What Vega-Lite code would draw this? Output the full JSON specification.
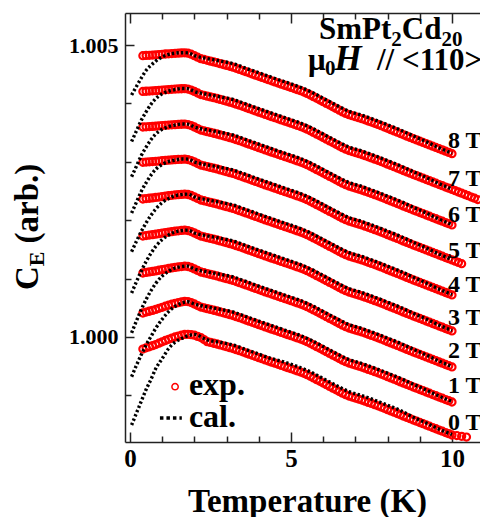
{
"$schema": "https://vega.github.io/schema/vega-lite/v6.json",
"width": 355, "height": 429,
"autosize": {"type": "none"},
"padding": {"left": 125, "top": 13, "right": 0, "bottom": 75},
"background": "white",
"config": {
  "view": {"stroke": null},
  "font": "Liberation Serif",
  "axis": {"grid": false, "domainColor": "#222", "tickColor": "#222", "domainWidth": 1.5, "tickWidth": 1.5,
           "labelFont": "Liberation Serif", "labelFontWeight": "bold", "labelColor": "black",
           "labelFlush": false, "labelOverlap": false, "labelBound": false}
},
"datasets": {
"exp": [
{"T":0.4,"h8":1.004817,"h7":1.004204,"h6":1.003596,"h5":1.002991,"h4":1.002363,"h3":1.001729,"h2":1.001096,"h1":1.000411,"h0":0.999794},
{"T":0.5,"h8":1.004821,"h7":1.004208,"h6":1.003600,"h5":1.002996,"h4":1.002370,"h3":1.001737,"h2":1.001106,"h1":1.000427,"h0":0.999815},
{"T":0.6,"h8":1.004824,"h7":1.004211,"h6":1.003603,"h5":1.003000,"h4":1.002376,"h3":1.001745,"h2":1.001114,"h1":1.000441,"h0":0.999833},
{"T":0.7,"h8":1.004828,"h7":1.004215,"h6":1.003607,"h5":1.003004,"h4":1.002382,"h3":1.001752,"h2":1.001122,"h1":1.000456,"h0":0.999851},
{"T":0.8,"h8":1.004832,"h7":1.004219,"h6":1.003611,"h5":1.003008,"h4":1.002389,"h3":1.001760,"h2":1.001132,"h1":1.000472,"h0":0.999871},
{"T":0.9,"h8":1.004837,"h7":1.004224,"h6":1.003616,"h5":1.003013,"h4":1.002397,"h3":1.001769,"h2":1.001143,"h1":1.000491,"h0":0.999894},
{"T":1.0,"h8":1.004841,"h7":1.004228,"h6":1.003620,"h5":1.003019,"h4":1.002404,"h3":1.001779,"h2":1.001154,"h1":1.000509,"h0":0.999917},
{"T":1.1,"h8":1.004846,"h7":1.004233,"h6":1.003625,"h5":1.003023,"h4":1.002412,"h3":1.001788,"h2":1.001164,"h1":1.000528,"h0":0.999940},
{"T":1.2,"h8":1.004850,"h7":1.004237,"h6":1.003629,"h5":1.003028,"h4":1.002419,"h3":1.001796,"h2":1.001174,"h1":1.000544,"h0":0.999961},
{"T":1.3,"h8":1.004854,"h7":1.004241,"h6":1.003633,"h5":1.003033,"h4":1.002426,"h3":1.001804,"h2":1.001184,"h1":1.000561,"h0":0.999982},
{"T":1.4,"h8":1.004858,"h7":1.004245,"h6":1.003637,"h5":1.003037,"h4":1.002432,"h3":1.001811,"h2":1.001192,"h1":1.000575,"h0":1.000000},
{"T":1.5,"h8":1.004861,"h7":1.004248,"h6":1.003640,"h5":1.003040,"h4":1.002437,"h3":1.001818,"h2":1.001199,"h1":1.000587,"h0":1.000015},
{"T":1.6,"h8":1.004864,"h7":1.004251,"h6":1.003643,"h5":1.003043,"h4":1.002442,"h3":1.001824,"h2":1.001206,"h1":1.000600,"h0":1.000030},
{"T":1.7,"h8":1.004866,"h7":1.004253,"h6":1.003645,"h5":1.003046,"h4":1.002446,"h3":1.001829,"h2":1.001212,"h1":1.000610,"h0":1.000043},
{"T":1.8,"h8":1.004859,"h7":1.004246,"h6":1.003638,"h5":1.003039,"h4":1.002440,"h3":1.001823,"h2":1.001207,"h1":1.000607,"h0":1.000046},
{"T":1.9,"h8":1.004842,"h7":1.004229,"h6":1.003621,"h5":1.003022,"h4":1.002423,"h3":1.001806,"h2":1.001190,"h1":1.000590,"h0":1.000039},
{"T":2.0,"h8":1.004817,"h7":1.004204,"h6":1.003596,"h5":1.002997,"h4":1.002398,"h3":1.001781,"h2":1.001165,"h1":1.000565,"h0":1.000031},
{"T":2.1,"h8":1.004791,"h7":1.004178,"h6":1.003570,"h5":1.002971,"h4":1.002372,"h3":1.001755,"h2":1.001139,"h1":1.000539,"h0":1.000011},
{"T":2.2,"h8":1.004765,"h7":1.004152,"h6":1.003544,"h5":1.002945,"h4":1.002346,"h3":1.001729,"h2":1.001113,"h1":1.000513,"h0":0.999991},
{"T":2.3,"h8":1.004752,"h7":1.004139,"h6":1.003531,"h5":1.002932,"h4":1.002333,"h3":1.001716,"h2":1.001100,"h1":1.000500,"h0":0.999956},
{"T":2.4,"h8":1.004738,"h7":1.004125,"h6":1.003517,"h5":1.002918,"h4":1.002319,"h3":1.001702,"h2":1.001086,"h1":1.000486,"h0":0.999921},
{"T":2.5,"h8":1.004724,"h7":1.004111,"h6":1.003503,"h5":1.002904,"h4":1.002305,"h3":1.001688,"h2":1.001072,"h1":1.000472,"h0":0.999907},
{"T":2.6,"h8":1.004710,"h7":1.004097,"h6":1.003489,"h5":1.002890,"h4":1.002291,"h3":1.001674,"h2":1.001058,"h1":1.000458,"h0":0.999893},
{"T":2.7,"h8":1.004697,"h7":1.004084,"h6":1.003476,"h5":1.002877,"h4":1.002278,"h3":1.001661,"h2":1.001045,"h1":1.000445,"h0":0.999880},
{"T":2.8,"h8":1.004681,"h7":1.004068,"h6":1.003460,"h5":1.002861,"h4":1.002262,"h3":1.001645,"h2":1.001029,"h1":1.000429,"h0":0.999864},
{"T":2.9,"h8":1.004666,"h7":1.004053,"h6":1.003445,"h5":1.002846,"h4":1.002247,"h3":1.001630,"h2":1.001014,"h1":1.000414,"h0":0.999849},
{"T":3.0,"h8":1.004651,"h7":1.004038,"h6":1.003430,"h5":1.002831,"h4":1.002232,"h3":1.001615,"h2":1.000999,"h1":1.000399,"h0":0.999834},
{"T":3.1,"h8":1.004635,"h7":1.004022,"h6":1.003414,"h5":1.002815,"h4":1.002216,"h3":1.001599,"h2":1.000983,"h1":1.000383,"h0":0.999818},
{"T":3.2,"h8":1.004620,"h7":1.004007,"h6":1.003399,"h5":1.002800,"h4":1.002201,"h3":1.001584,"h2":1.000968,"h1":1.000368,"h0":0.999803},
{"T":3.3,"h8":1.004601,"h7":1.003988,"h6":1.003380,"h5":1.002781,"h4":1.002182,"h3":1.001565,"h2":1.000949,"h1":1.000349,"h0":0.999784},
{"T":3.4,"h8":1.004582,"h7":1.003969,"h6":1.003361,"h5":1.002762,"h4":1.002163,"h3":1.001546,"h2":1.000930,"h1":1.000330,"h0":0.999765},
{"T":3.5,"h8":1.004563,"h7":1.003950,"h6":1.003342,"h5":1.002743,"h4":1.002144,"h3":1.001527,"h2":1.000911,"h1":1.000311,"h0":0.999746},
{"T":3.6,"h8":1.004543,"h7":1.003930,"h6":1.003322,"h5":1.002723,"h4":1.002124,"h3":1.001507,"h2":1.000891,"h1":1.000291,"h0":0.999726},
{"T":3.7,"h8":1.004524,"h7":1.003911,"h6":1.003303,"h5":1.002704,"h4":1.002105,"h3":1.001488,"h2":1.000872,"h1":1.000272,"h0":0.999707},
{"T":3.8,"h8":1.004503,"h7":1.003890,"h6":1.003282,"h5":1.002683,"h4":1.002084,"h3":1.001467,"h2":1.000851,"h1":1.000251,"h0":0.999686},
{"T":3.9,"h8":1.004484,"h7":1.003871,"h6":1.003263,"h5":1.002664,"h4":1.002065,"h3":1.001448,"h2":1.000832,"h1":1.000232,"h0":0.999667},
{"T":4.0,"h8":1.004464,"h7":1.003851,"h6":1.003243,"h5":1.002644,"h4":1.002045,"h3":1.001428,"h2":1.000812,"h1":1.000212,"h0":0.999647},
{"T":4.1,"h8":1.004445,"h7":1.003832,"h6":1.003224,"h5":1.002625,"h4":1.002026,"h3":1.001409,"h2":1.000793,"h1":1.000193,"h0":0.999628},
{"T":4.2,"h8":1.004425,"h7":1.003812,"h6":1.003204,"h5":1.002605,"h4":1.002006,"h3":1.001389,"h2":1.000773,"h1":1.000173,"h0":0.999608},
{"T":4.3,"h8":1.004406,"h7":1.003793,"h6":1.003185,"h5":1.002586,"h4":1.001987,"h3":1.001370,"h2":1.000754,"h1":1.000154,"h0":0.999589},
{"T":4.4,"h8":1.004387,"h7":1.003774,"h6":1.003166,"h5":1.002567,"h4":1.001968,"h3":1.001351,"h2":1.000735,"h1":1.000135,"h0":0.999570},
{"T":4.5,"h8":1.004368,"h7":1.003755,"h6":1.003147,"h5":1.002548,"h4":1.001949,"h3":1.001332,"h2":1.000716,"h1":1.000116,"h0":0.999551},
{"T":4.6,"h8":1.004349,"h7":1.003736,"h6":1.003128,"h5":1.002529,"h4":1.001930,"h3":1.001313,"h2":1.000697,"h1":1.000097,"h0":0.999532},
{"T":4.7,"h8":1.004330,"h7":1.003717,"h6":1.003109,"h5":1.002510,"h4":1.001911,"h3":1.001294,"h2":1.000678,"h1":1.000078,"h0":0.999513},
{"T":4.8,"h8":1.004311,"h7":1.003698,"h6":1.003090,"h5":1.002491,"h4":1.001892,"h3":1.001275,"h2":1.000659,"h1":1.000059,"h0":0.999494},
{"T":4.9,"h8":1.004293,"h7":1.003680,"h6":1.003072,"h5":1.002473,"h4":1.001874,"h3":1.001257,"h2":1.000641,"h1":1.000041,"h0":0.999476},
{"T":5.0,"h8":1.004274,"h7":1.003661,"h6":1.003053,"h5":1.002454,"h4":1.001855,"h3":1.001238,"h2":1.000622,"h1":1.000022,"h0":0.999457},
{"T":5.1,"h8":1.004255,"h7":1.003642,"h6":1.003034,"h5":1.002435,"h4":1.001836,"h3":1.001219,"h2":1.000603,"h1":1.000003,"h0":0.999438},
{"T":5.2,"h8":1.004236,"h7":1.003623,"h6":1.003015,"h5":1.002416,"h4":1.001817,"h3":1.001200,"h2":1.000584,"h1":0.999984,"h0":0.999419},
{"T":5.3,"h8":1.004217,"h7":1.003604,"h6":1.002996,"h5":1.002397,"h4":1.001798,"h3":1.001181,"h2":1.000565,"h1":0.999965,"h0":0.999400},
{"T":5.4,"h8":1.004195,"h7":1.003582,"h6":1.002974,"h5":1.002375,"h4":1.001776,"h3":1.001159,"h2":1.000543,"h1":0.999943,"h0":0.999378},
{"T":5.5,"h8":1.004171,"h7":1.003558,"h6":1.002950,"h5":1.002351,"h4":1.001752,"h3":1.001135,"h2":1.000519,"h1":0.999919,"h0":0.999354},
{"T":5.6,"h8":1.004144,"h7":1.003531,"h6":1.002923,"h5":1.002324,"h4":1.001725,"h3":1.001108,"h2":1.000492,"h1":0.999892,"h0":0.999327},
{"T":5.7,"h8":1.004116,"h7":1.003503,"h6":1.002895,"h5":1.002296,"h4":1.001697,"h3":1.001080,"h2":1.000464,"h1":0.999864,"h0":0.999299},
{"T":5.8,"h8":1.004087,"h7":1.003474,"h6":1.002866,"h5":1.002267,"h4":1.001668,"h3":1.001051,"h2":1.000435,"h1":0.999835,"h0":0.999270},
{"T":5.9,"h8":1.004058,"h7":1.003445,"h6":1.002837,"h5":1.002238,"h4":1.001639,"h3":1.001022,"h2":1.000406,"h1":0.999806,"h0":0.999241},
{"T":6.0,"h8":1.004029,"h7":1.003416,"h6":1.002808,"h5":1.002209,"h4":1.001610,"h3":1.000993,"h2":1.000377,"h1":0.999777,"h0":0.999212},
{"T":6.1,"h8":1.004000,"h7":1.003387,"h6":1.002779,"h5":1.002180,"h4":1.001581,"h3":1.000964,"h2":1.000348,"h1":0.999748,"h0":0.999183},
{"T":6.2,"h8":1.003971,"h7":1.003358,"h6":1.002750,"h5":1.002151,"h4":1.001552,"h3":1.000935,"h2":1.000319,"h1":0.999719,"h0":0.999154},
{"T":6.3,"h8":1.003942,"h7":1.003329,"h6":1.002721,"h5":1.002122,"h4":1.001523,"h3":1.000906,"h2":1.000290,"h1":0.999690,"h0":0.999125},
{"T":6.4,"h8":1.003913,"h7":1.003300,"h6":1.002692,"h5":1.002093,"h4":1.001494,"h3":1.000877,"h2":1.000261,"h1":0.999661,"h0":0.999096},
{"T":6.5,"h8":1.003883,"h7":1.003270,"h6":1.002662,"h5":1.002063,"h4":1.001464,"h3":1.000847,"h2":1.000231,"h1":0.999631,"h0":0.999066},
{"T":6.6,"h8":1.003854,"h7":1.003241,"h6":1.002633,"h5":1.002034,"h4":1.001435,"h3":1.000818,"h2":1.000202,"h1":0.999602,"h0":0.999037},
{"T":6.7,"h8":1.003829,"h7":1.003216,"h6":1.002608,"h5":1.002009,"h4":1.001410,"h3":1.000793,"h2":1.000177,"h1":0.999577,"h0":0.999012},
{"T":6.8,"h8":1.003806,"h7":1.003193,"h6":1.002585,"h5":1.001986,"h4":1.001387,"h3":1.000770,"h2":1.000154,"h1":0.999554,"h0":0.998989},
{"T":6.9,"h8":1.003789,"h7":1.003176,"h6":1.002568,"h5":1.001969,"h4":1.001370,"h3":1.000753,"h2":1.000137,"h1":0.999537,"h0":0.998972},
{"T":7.0,"h8":1.003772,"h7":1.003159,"h6":1.002551,"h5":1.001952,"h4":1.001353,"h3":1.000736,"h2":1.000120,"h1":0.999520,"h0":0.998955},
{"T":7.1,"h8":1.003755,"h7":1.003142,"h6":1.002534,"h5":1.001935,"h4":1.001336,"h3":1.000719,"h2":1.000103,"h1":0.999503,"h0":0.998938},
{"T":7.2,"h8":1.003738,"h7":1.003125,"h6":1.002517,"h5":1.001918,"h4":1.001319,"h3":1.000702,"h2":1.000086,"h1":0.999486,"h0":0.998921},
{"T":7.3,"h8":1.003719,"h7":1.003106,"h6":1.002498,"h5":1.001899,"h4":1.001300,"h3":1.000683,"h2":1.000067,"h1":0.999467,"h0":0.998902},
{"T":7.4,"h8":1.003698,"h7":1.003085,"h6":1.002477,"h5":1.001878,"h4":1.001279,"h3":1.000662,"h2":1.000046,"h1":0.999446,"h0":0.998881},
{"T":7.5,"h8":1.003680,"h7":1.003067,"h6":1.002459,"h5":1.001860,"h4":1.001261,"h3":1.000644,"h2":1.000028,"h1":0.999428,"h0":0.998863},
{"T":7.6,"h8":1.003659,"h7":1.003046,"h6":1.002438,"h5":1.001839,"h4":1.001240,"h3":1.000623,"h2":1.000007,"h1":0.999407,"h0":0.998842},
{"T":7.7,"h8":1.003639,"h7":1.003026,"h6":1.002418,"h5":1.001819,"h4":1.001220,"h3":1.000603,"h2":0.999987,"h1":0.999387,"h0":0.998822},
{"T":7.8,"h8":1.003618,"h7":1.003005,"h6":1.002397,"h5":1.001798,"h4":1.001199,"h3":1.000582,"h2":0.999966,"h1":0.999366,"h0":0.998801},
{"T":7.9,"h8":1.003596,"h7":1.002983,"h6":1.002375,"h5":1.001776,"h4":1.001177,"h3":1.000560,"h2":0.999944,"h1":0.999344,"h0":0.998779},
{"T":8.0,"h8":1.003573,"h7":1.002960,"h6":1.002352,"h5":1.001753,"h4":1.001154,"h3":1.000537,"h2":0.999921,"h1":0.999321,"h0":0.998756},
{"T":8.1,"h8":1.003551,"h7":1.002938,"h6":1.002330,"h5":1.001731,"h4":1.001132,"h3":1.000515,"h2":0.999899,"h1":0.999299,"h0":0.998734},
{"T":8.2,"h8":1.003529,"h7":1.002916,"h6":1.002308,"h5":1.001709,"h4":1.001110,"h3":1.000493,"h2":0.999877,"h1":0.999277,"h0":0.998712},
{"T":8.3,"h8":1.003507,"h7":1.002894,"h6":1.002286,"h5":1.001687,"h4":1.001088,"h3":1.000471,"h2":0.999855,"h1":0.999255,"h0":0.998690},
{"T":8.4,"h8":1.003484,"h7":1.002871,"h6":1.002263,"h5":1.001664,"h4":1.001065,"h3":1.000448,"h2":0.999832,"h1":0.999232,"h0":0.998667},
{"T":8.5,"h8":1.003462,"h7":1.002849,"h6":1.002241,"h5":1.001642,"h4":1.001043,"h3":1.000426,"h2":0.999810,"h1":0.999210,"h0":0.998645},
{"T":8.6,"h8":1.003440,"h7":1.002827,"h6":1.002219,"h5":1.001620,"h4":1.001021,"h3":1.000404,"h2":0.999788,"h1":0.999188,"h0":0.998623},
{"T":8.7,"h8":1.003418,"h7":1.002805,"h6":1.002197,"h5":1.001598,"h4":1.000999,"h3":1.000382,"h2":0.999766,"h1":0.999166,"h0":0.998601},
{"T":8.8,"h8":1.003395,"h7":1.002782,"h6":1.002174,"h5":1.001575,"h4":1.000976,"h3":1.000359,"h2":0.999743,"h1":0.999143,"h0":0.998578},
{"T":8.9,"h8":1.003375,"h7":1.002762,"h6":1.002154,"h5":1.001555,"h4":1.000956,"h3":1.000339,"h2":0.999723,"h1":0.999123,"h0":0.998558},
{"T":9.0,"h8":1.003353,"h7":1.002740,"h6":1.002132,"h5":1.001533,"h4":1.000934,"h3":1.000317,"h2":0.999701,"h1":0.999101,"h0":0.998536},
{"T":9.1,"h8":1.003332,"h7":1.002719,"h6":1.002111,"h5":1.001512,"h4":1.000913,"h3":1.000296,"h2":0.999680,"h1":0.999080,"h0":0.998515},
{"T":9.2,"h8":1.003310,"h7":1.002697,"h6":1.002089,"h5":1.001490,"h4":1.000891,"h3":1.000274,"h2":0.999658,"h1":0.999058,"h0":0.998493},
{"T":9.3,"h8":1.003289,"h7":1.002676,"h6":1.002068,"h5":1.001469,"h4":1.000870,"h3":1.000253,"h2":0.999637,"h1":0.999037,"h0":0.998472},
{"T":9.4,"h8":1.003267,"h7":1.002654,"h6":1.002046,"h5":1.001447,"h4":1.000848,"h3":1.000231,"h2":0.999615,"h1":0.999015,"h0":0.998450},
{"T":9.5,"h8":1.003246,"h7":1.002633,"h6":1.002025,"h5":1.001426,"h4":1.000827,"h3":1.000210,"h2":0.999594,"h1":0.998994,"h0":0.998429},
{"T":9.6,"h8":1.003224,"h7":1.002611,"h6":1.002003,"h5":1.001404,"h4":1.000805,"h3":1.000188,"h2":0.999572,"h1":0.998972,"h0":0.998407},
{"T":9.7,"h8":1.003204,"h7":1.002591,"h6":1.001983,"h5":1.001384,"h4":1.000785,"h3":1.000168,"h2":0.999552,"h1":0.998952,"h0":0.998387},
{"T":9.8,"h8":1.003181,"h7":1.002568,"h6":1.001960,"h5":1.001361,"h4":1.000762,"h3":1.000145,"h2":0.999529,"h1":0.998929,"h0":0.998364},
{"T":9.9,"h8":1.003161,"h7":1.002548,"h6":1.001940,"h5":1.001341,"h4":1.000742,"h3":1.000125,"h2":0.999509,"h1":0.998909,"h0":0.998344},
{"T":10.0,"h8":1.003139,"h7":1.002526,"h6":1.001918,"h5":1.001319,"h4":1.000720,"h3":1.000103,"h2":0.999487,"h1":0.998887,"h0":0.998322},
{"T":10.1,"h7":1.002505,"h5":1.001298},
{"T":10.15,"h0":0.998313},
{"T":10.2,"h7":1.002483,"h5":1.001276},
{"T":10.3,"h7":1.002462,"h5":1.001255,"h0":0.998299},
{"T":10.4,"h7":1.002440},
{"T":10.45,"h0":0.998287},
{"T":10.5,"h7":1.002419},
{"T":10.6,"h7":1.002397},
{"T":10.7,"h7":1.002377},
{"T":10.8,"h7":1.002354}
],
"cal": [
{"T":0.05,"h8":1.004144,"h7":1.003347,"h6":1.002745,"h5":1.002123,"h4":1.001461,"h3":1.000753,"h2":1.000069,"h1":0.999320,"h0":0.998493},
{"T":0.2,"h8":1.004289,"h7":1.003529,"h6":1.002925,"h5":1.002308,"h4":1.001639,"h3":1.000947,"h2":1.000275,"h1":0.999514,"h0":0.998696},
{"T":0.35,"h8":1.004434,"h7":1.003710,"h6":1.003106,"h5":1.002493,"h4":1.001807,"h3":1.001131,"h2":1.000470,"h1":0.999696,"h0":0.998898},
{"T":0.5,"h8":1.004564,"h7":1.003855,"h6":1.003250,"h5":1.002641,"h4":1.001955,"h3":1.001292,"h2":1.000642,"h1":0.999864,"h0":0.999101},
{"T":0.65,"h8":1.004651,"h7":1.003983,"h6":1.003376,"h5":1.002770,"h4":1.002083,"h3":1.001433,"h2":1.000792,"h1":1.000007,"h0":0.999272},
{"T":0.8,"h8":1.004723,"h7":1.004082,"h6":1.003476,"h5":1.002872,"h4":1.002192,"h3":1.001551,"h2":1.000918,"h1":1.000149,"h0":0.999459},
{"T":1.0,"h8":1.004796,"h7":1.004164,"h6":1.003557,"h5":1.002955,"h4":1.002301,"h3":1.001670,"h2":1.001044,"h1":1.000305,"h0":0.999630},
{"T":1.2,"h8":1.004839,"h7":1.004210,"h6":1.003602,"h5":1.003002,"h4":1.002370,"h3":1.001746,"h2":1.001124,"h1":1.000435,"h0":0.999802},
{"T":1.4,"h8":1.004861,"h7":1.004237,"h6":1.003629,"h5":1.003029,"h4":1.002419,"h3":1.001800,"h2":1.001182,"h1":1.000525,"h0":0.999911},
{"T":1.6,"h8":1.004868,"h7":1.004255,"h6":1.003647,"h5":1.003048,"h4":1.002439,"h3":1.001821,"h2":1.001205,"h1":1.000577,"h0":0.999973},
{"T":1.8,"h8":1.004866,"h7":1.004253,"h6":1.003645,"h5":1.003046,"h4":1.002447,"h3":1.001830,"h2":1.001214,"h1":1.000603,"h0":1.000020},
{"T":2.0,"h8":1.004817,"h7":1.004204,"h6":1.003596,"h5":1.002997,"h4":1.002398,"h3":1.001781,"h2":1.001165,"h1":1.000565,"h0":1.000045},
{"T":2.4,"h8":1.004768,"h7":1.004155,"h6":1.003547,"h5":1.002948,"h4":1.002349,"h3":1.001732,"h2":1.001116,"h1":1.000516,"h0":0.999951},
{"T":2.8,"h8":1.004726,"h7":1.004113,"h6":1.003505,"h5":1.002906,"h4":1.002307,"h3":1.001690,"h2":1.001074,"h1":1.000474,"h0":0.999909},
{"T":3.2,"h8":1.004680,"h7":1.004067,"h6":1.003459,"h5":1.002860,"h4":1.002261,"h3":1.001644,"h2":1.001028,"h1":1.000428,"h0":0.999863},
{"T":3.6,"h8":1.004603,"h7":1.003990,"h6":1.003382,"h5":1.002783,"h4":1.002184,"h3":1.001567,"h2":1.000951,"h1":1.000351,"h0":0.999786},
{"T":4.0,"h8":1.004524,"h7":1.003911,"h6":1.003303,"h5":1.002704,"h4":1.002105,"h3":1.001488,"h2":1.000872,"h1":1.000272,"h0":0.999707},
{"T":4.4,"h8":1.004447,"h7":1.003834,"h6":1.003226,"h5":1.002627,"h4":1.002028,"h3":1.001411,"h2":1.000795,"h1":1.000195,"h0":0.999630},
{"T":4.8,"h8":1.004371,"h7":1.003758,"h6":1.003150,"h5":1.002551,"h4":1.001952,"h3":1.001335,"h2":1.000719,"h1":1.000119,"h0":0.999570},
{"T":5.2,"h8":1.004296,"h7":1.003683,"h6":1.003075,"h5":1.002476,"h4":1.001877,"h3":1.001260,"h2":1.000644,"h1":1.000044,"h0":0.999495},
{"T":5.6,"h8":1.004204,"h7":1.003591,"h6":1.002983,"h5":1.002384,"h4":1.001785,"h3":1.001168,"h2":1.000552,"h1":0.999952,"h0":0.999403},
{"T":6.0,"h8":1.004089,"h7":1.003476,"h6":1.002868,"h5":1.002269,"h4":1.001670,"h3":1.001053,"h2":1.000437,"h1":0.999837,"h0":0.999288},
{"T":6.4,"h8":1.003973,"h7":1.003360,"h6":1.002752,"h5":1.002153,"h4":1.001554,"h3":1.000937,"h2":1.000321,"h1":0.999721,"h0":0.999172},
{"T":6.8,"h8":1.003866,"h7":1.003253,"h6":1.002645,"h5":1.002046,"h4":1.001447,"h3":1.000830,"h2":1.000214,"h1":0.999614,"h0":0.999065},
{"T":7.2,"h8":1.003798,"h7":1.003185,"h6":1.002577,"h5":1.001978,"h4":1.001379,"h3":1.000762,"h2":1.000146,"h1":0.999546,"h0":0.998997},
{"T":7.6,"h8":1.003719,"h7":1.003106,"h6":1.002498,"h5":1.001899,"h4":1.001300,"h3":1.000683,"h2":1.000067,"h1":0.999467,"h0":0.998918},
{"T":8.0,"h8":1.003633,"h7":1.003020,"h6":1.002412,"h5":1.001813,"h4":1.001214,"h3":1.000597,"h2":0.999981,"h1":0.999381,"h0":0.998832},
{"T":8.4,"h8":1.003544,"h7":1.002931,"h6":1.002323,"h5":1.001724,"h4":1.001125,"h3":1.000508,"h2":0.999892,"h1":0.999292,"h0":0.998743},
{"T":8.8,"h8":1.003443,"h7":1.002830,"h6":1.002222,"h5":1.001623,"h4":1.001024,"h3":1.000407,"h2":0.999791,"h1":0.999191,"h0":0.998626},
{"T":9.2,"h8":1.003345,"h7":1.002732,"h6":1.002124,"h5":1.001525,"h4":1.000926,"h3":1.000309,"h2":0.999693,"h1":0.999093,"h0":0.998528},
{"T":9.6,"h8":1.003239,"h7":1.002626,"h6":1.002018,"h5":1.001419,"h4":1.000820,"h3":1.000203,"h2":0.999587,"h1":0.998987,"h0":0.998422},
{"T":10.0,"h8":1.003147,"h7":1.002534,"h6":1.001926,"h5":1.001327,"h4":1.000728,"h3":1.000111,"h2":0.999495,"h1":0.998895,"h0":0.998330}
],
"lab": [
{"T":9.876,"CE":1.003236,"t":"8 T"},{"T":9.876,"CE":1.002586,"t":"7 T"},{"T":9.876,"CE":1.001969,"t":"6 T"},
{"T":9.876,"CE":1.001353,"t":"5 T"},{"T":9.876,"CE":1.000771,"t":"4 T"},{"T":9.876,"CE":1.000205,"t":"3 T"},
{"T":9.876,"CE":0.999640,"t":"2 T"},{"T":9.876,"CE":0.999041,"t":"1 T"},{"T":9.876,"CE":0.998408,"t":"0 T"}
],
"ttl": [
{"T":5.870,"CE":1.005103,"t":"SmPt"},{"T":8.441,"CE":1.005103,"t":"Cd"}
],
"ttl2": [
{"T":5.528,"CE":1.004572,"t":"μ"},{"T":7.671,"CE":1.004572,"t":"// <110>"}
],
"sub": [
{"T":8.115,"CE":1.004983,"t":"2"},{"T":9.671,"CE":1.004983,"t":"20"},{"T":6.056,"CE":1.004486,"t":"0"}
],
"hit": [{"T":6.351,"CE":1.004572,"t":"H"}],
"leg": [{"T":1.83,"CE":0.999007,"t":"exp."},{"T":1.83,"CE":0.998459,"t":"cal."}],
"legpt": [{"T":1.40,"CE":0.999149}],
"legln": [{"T":0.93,"CE":0.998613},{"T":1.61,"CE":0.998613}],
"yt": [{"T":-2.857,"CE":1.000805,"t":"C"},{"T":-2.857,"CE":1.001601,"t":"(arb.)"}],
"ys": [{"T":-2.671,"CE":1.001212,"t":"E"}]
},
"layer": [
{
  "data": {"name": "exp"},
  "transform": [{"fold": ["h0","h1","h2","h3","h4","h5","h6","h7","h8"], "as": ["H","CE"]}, {"filter": "isValid(datum.CE)"}],
  "mark": {"type": "point", "shape": "circle", "filled": false, "color": "#ff0000", "size": 50, "strokeWidth": 2.2, "opacity": 1},
  "encoding": {
    "x": {"field": "T", "type": "quantitative", "scale": {"domain": [-0.155, 10.87], "nice": false, "zero": false},
          "axis": {"orient": "bottom", "values": [0,5,10], "ticks": false, "labelFontSize": 25, "labelPadding": 4, "domain": true,
                   "title": "Temperature (K)", "titleFont": "Liberation Serif", "titleFontSize": 33, "titleFontWeight": "bold", "titleColor": "black",
                   "titleX": 182, "titleY": 69, "titleBaseline": "alphabetic", "titleAlign": "center"}},
    "y": {"field": "CE", "type": "quantitative", "scale": {"domain": [0.998202, 1.005548], "nice": false, "zero": false},
          "axis": {"orient": "left", "values": [1.0, 1.005], "format": ".3f", "ticks": false, "labelFontSize": 22, "labelPadding": 7, "domain": true, "title": null}}
  }
},
{
  "data": {"name": "cal"},
  "transform": [{"fold": ["h0","h1","h2","h3","h4","h5","h6","h7","h8"], "as": ["H","CE"]}, {"filter": "isValid(datum.CE)"}],
  "mark": {"type": "line", "color": "black", "strokeWidth": 3.4, "strokeDash": [2.4, 2.2], "strokeCap": "butt", "interpolate": "monotone"},
  "encoding": {
    "x": {"field": "T", "type": "quantitative", "scale": {"domain": [-0.155, 10.87], "nice": false, "zero": false},
          "axis": {"orient": "bottom", "values": [0,5,10], "tickSize": -10, "labels": false, "domain": false, "title": null}},
    "y": {"field": "CE", "type": "quantitative", "scale": {"domain": [0.998202, 1.005548], "nice": false, "zero": false},
          "axis": {"orient": "left", "values": [1.0, 1.005], "tickSize": -9, "labels": false, "domain": false, "title": null}},
    "detail": {"field": "H"}
  }
},
{
  "data": {"name": "lab"},
  "mark": {"type": "text", "align": "left", "baseline": "alphabetic", "font": "Liberation Serif", "fontWeight": "bold", "fontSize": 24, "color": "black"},
  "encoding": {
    "x": {"field": "T", "type": "quantitative", "scale": {"domain": [-0.155, 10.87], "nice": false, "zero": false},
          "axis": {"orient": "bottom", "values": [1,2,3,4,6,7,8,9], "tickSize": -6, "labels": false, "domain": false, "title": null}},
    "y": {"field": "CE", "type": "quantitative", "scale": {"domain": [0.998202, 1.005548], "nice": false, "zero": false},
          "axis": {"orient": "left", "values": [0.999, 1.001, 1.002, 1.003, 1.004], "tickSize": -6, "labels": false, "domain": false, "title": null}},
    "text": {"field": "t"}
  }
},
{
  "data": {"name": "ttl"},
  "mark": {"type": "text", "align": "left", "baseline": "alphabetic", "font": "Liberation Serif", "fontWeight": "bold", "fontSize": 31, "color": "black"},
  "encoding": {
    "x": {"field": "T", "type": "quantitative", "scale": {"domain": [-0.155, 10.87], "nice": false, "zero": false},
          "axis": {"orient": "top", "values": [0,5,10], "tickSize": -10, "labels": false, "domain": true, "title": null}},
    "y": {"field": "CE", "type": "quantitative", "scale": {"domain": [0.998202, 1.005548], "nice": false, "zero": false}, "axis": null},
    "text": {"field": "t"}
  }
},
{
  "data": {"name": "sub"},
  "mark": {"type": "text", "align": "left", "baseline": "alphabetic", "font": "Liberation Serif", "fontWeight": "bold", "fontSize": 21, "color": "black"},
  "encoding": {
    "x": {"field": "T", "type": "quantitative", "scale": {"domain": [-0.155, 10.87], "nice": false, "zero": false},
          "axis": {"orient": "top", "values": [1,2,3,4,6,7,8,9], "tickSize": -6, "labels": false, "domain": false, "title": null}},
    "y": {"field": "CE", "type": "quantitative", "scale": {"domain": [0.998202, 1.005548], "nice": false, "zero": false}, "axis": null},
    "text": {"field": "t"}
  }
},
{
  "data": {"name": "ttl2"},
  "mark": {"type": "text", "align": "left", "baseline": "alphabetic", "font": "Liberation Serif", "fontWeight": "bold", "fontSize": 31, "color": "black"},
  "encoding": {
    "x": {"field": "T", "type": "quantitative", "scale": {"domain": [-0.155, 10.87], "nice": false, "zero": false}, "axis": null},
    "y": {"field": "CE", "type": "quantitative", "scale": {"domain": [0.998202, 1.005548], "nice": false, "zero": false}, "axis": null},
    "text": {"field": "t"}
  }
},
{
  "data": {"name": "hit"},
  "mark": {"type": "text", "align": "left", "baseline": "alphabetic", "font": "Liberation Serif", "fontWeight": "bold", "fontStyle": "italic", "fontSize": 35, "color": "black"},
  "encoding": {
    "x": {"field": "T", "type": "quantitative", "scale": {"domain": [-0.155, 10.87], "nice": false, "zero": false}, "axis": null},
    "y": {"field": "CE", "type": "quantitative", "scale": {"domain": [0.998202, 1.005548], "nice": false, "zero": false}, "axis": null},
    "text": {"field": "t"}
  }
},
{
  "data": {"name": "leg"},
  "mark": {"type": "text", "align": "left", "baseline": "alphabetic", "font": "Liberation Serif", "fontWeight": "bold", "fontSize": 32, "color": "black"},
  "encoding": {
    "x": {"field": "T", "type": "quantitative", "scale": {"domain": [-0.155, 10.87], "nice": false, "zero": false}, "axis": null},
    "y": {"field": "CE", "type": "quantitative", "scale": {"domain": [0.998202, 1.005548], "nice": false, "zero": false}, "axis": null},
    "text": {"field": "t"}
  }
},
{
  "data": {"name": "legpt"},
  "mark": {"type": "point", "shape": "circle", "filled": false, "color": "#ff0000", "size": 40, "strokeWidth": 1.5, "opacity": 1},
  "encoding": {
    "x": {"field": "T", "type": "quantitative", "scale": {"domain": [-0.155, 10.87], "nice": false, "zero": false}, "axis": null},
    "y": {"field": "CE", "type": "quantitative", "scale": {"domain": [0.998202, 1.005548], "nice": false, "zero": false}, "axis": null}
  }
},
{
  "data": {"name": "legln"},
  "mark": {"type": "line", "color": "black", "strokeWidth": 3.5, "strokeDash": [3.5, 3], "strokeCap": "butt"},
  "encoding": {
    "x": {"field": "T", "type": "quantitative", "scale": {"domain": [-0.155, 10.87], "nice": false, "zero": false}, "axis": null},
    "y": {"field": "CE", "type": "quantitative", "scale": {"domain": [0.998202, 1.005548], "nice": false, "zero": false}, "axis": null}
  }
},
{
  "data": {"name": "yt"},
  "mark": {"type": "text", "align": "left", "baseline": "alphabetic", "angle": 270, "font": "Liberation Serif", "fontWeight": "bold", "fontSize": 33, "color": "black"},
  "encoding": {
    "x": {"field": "T", "type": "quantitative", "scale": {"domain": [-0.155, 10.87], "nice": false, "zero": false}, "axis": null},
    "y": {"field": "CE", "type": "quantitative", "scale": {"domain": [0.998202, 1.005548], "nice": false, "zero": false}, "axis": null},
    "text": {"field": "t"}
  }
},
{
  "data": {"name": "ys"},
  "mark": {"type": "text", "align": "left", "baseline": "alphabetic", "angle": 270, "font": "Liberation Serif", "fontWeight": "bold", "fontSize": 22, "color": "black"},
  "encoding": {
    "x": {"field": "T", "type": "quantitative", "scale": {"domain": [-0.155, 10.87], "nice": false, "zero": false}, "axis": null},
    "y": {"field": "CE", "type": "quantitative", "scale": {"domain": [0.998202, 1.005548], "nice": false, "zero": false}, "axis": null},
    "text": {"field": "t"}
  }
}
],
"resolve": {"axis": {"x": "independent", "y": "independent"}}
}
